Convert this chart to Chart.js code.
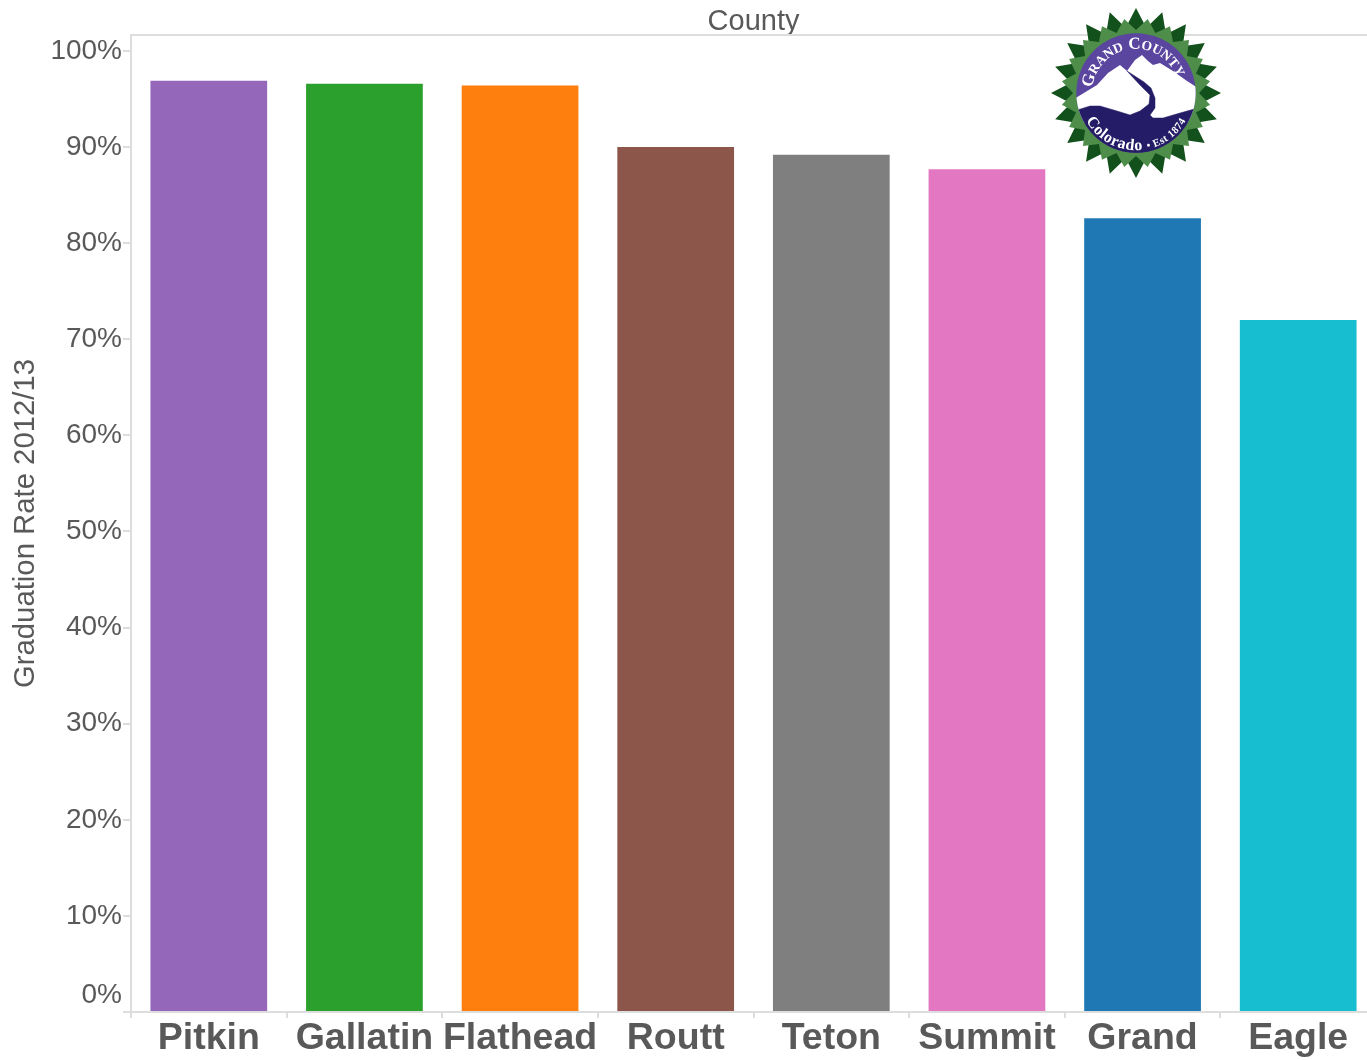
<!DOCTYPE html>
<html><head><meta charset="utf-8">
<script src="https://cdn.jsdelivr.net/npm/chart.js@4"></script>
<style>
html,body{margin:0;padding:0;background:#fff;overflow:hidden;width:1367px;height:1060px}
#wrap{position:relative;width:1367px;height:1060px;overflow:hidden}
canvas{position:absolute;left:0;top:0}
#seal{position:absolute;left:1046px;top:3px}
</style></head><body>
<div id="wrap"><canvas id="c" width="1376" height="1060"></canvas>
<svg id="seal" width="180" height="180" viewBox="-90 -90 180 180" xmlns="http://www.w3.org/2000/svg">
<defs>
<clipPath id="disc"><circle r="59.7"/></clipPath>
<path id="arcTopLong" d="M -38 22 A 44 44 0 1 1 38 22" transform="rotate(-7)"/>
<path id="arcBot" d="M -49 -29 A 57 57 0 1 0 49 -29"/>
</defs>
<g id="spikes"></g>
<g clip-path="url(#disc)">
<rect x="-60" y="-60" width="120" height="120" fill="#5a459f"/>
<path d="M -62 6 L -39 -8 L -28 -20 L -16 -28 L -9 -22 L -1 -33 L 6 -38 L 12 -32 L 17 -28 L 24 -30 L 37 -22 L 51 -12 L 62 -5 L 62 30 L -62 30 Z" fill="#ffffff"/>
<path d="M -62 18 L -46 13 L -36 13 L -19 18 L -6 22 L 4 18 L 13 11 L 14 2 L 4 -8 L -9 -22 L 8 -11 L 15 -5 L 19 5 L 19 15 L 14 22 L 17 25 L 27 25 L 44 20 L 62 15 L 62 62 L -62 62 Z" fill="#241c66" stroke="#241c66" stroke-width="0.5" stroke-linejoin="round"/>
</g>
<text font-family="'Liberation Serif',serif" font-weight="700" font-size="17" fill="#fff"><textPath href="#arcTopLong" startOffset="50%" text-anchor="middle">G<tspan font-size="13.5">RAND</tspan> C<tspan font-size="13.5">OUNTY</tspan></textPath></text>
<text font-family="'Liberation Serif',serif" font-weight="700" font-size="16" fill="#fff" letter-spacing="0.5"><textPath href="#arcBot" startOffset="50%" text-anchor="middle">Colorado <tspan font-size="10.5">• Est 1874</tspan></textPath></text>
</svg></div>
<script>
const categories = ['Pitkin','Gallatin','Flathead','Routt','Teton','Summit','Grand','Eagle'];
const graduationRate = [96.9,96.6,96.4,90.0,89.2,87.7,82.6,72.0];
const barColors = ['#9467bb','#2ca02c','#ff7f0e','#8c564b','#7f7f7f','#e377c2','#1f77b4','#17becf'];
const yTicks = [0,10,20,30,40,50,60,70,80,90,100];
const yTitle = 'Graduation Rate 2012/13';
const xTitle = 'County';

// seal ornament
(function(){
  const g=document.getElementById('spikes');const ns='http://www.w3.org/2000/svg';
  function star(n,ro,ri,off,fill){
    let p=[];for(let i=0;i<n*2;i++){const r=i%2?ri:ro;const a=(i*Math.PI/n)+off-Math.PI/2;p.push((r*Math.cos(a)).toFixed(2)+','+(r*Math.sin(a)).toFixed(2));}
    const e=document.createElementNS(ns,'polygon');e.setAttribute('points',p.join(' '));e.setAttribute('fill',fill);g.appendChild(e);
  }
  star(20,85,66,0,'#12501c');
  star(20,75,63,Math.PI/20,'#4f8d4b');
})();

const GREY='#595959', LINE='#dddddd';
new Chart(document.getElementById('c'),{
  type:'bar',
  data:{labels:categories,datasets:[{data:graduationRate,backgroundColor:barColors,barPercentage:0.75,categoryPercentage:1,borderWidth:0,xAxisID:'x',yAxisID:'y'}]},
  options:{
    responsive:false,animation:false,
    layout:{padding:0},
    plugins:{legend:{display:false},tooltip:{enabled:false}},
    scales:{
      x:{type:'category',position:'bottom',
        afterFit:s=>{s.height=48;},
        grid:{display:true,drawOnChartArea:false,drawTicks:true,tickLength:6,color:LINE,lineWidth:2,offset:true},
        border:{display:true,color:LINE,width:2},
        ticks:{color:GREY,autoSkip:false,maxRotation:0,padding:-2,font:{family:"'Liberation Sans',Arial,sans-serif",size:37.5,weight:'bold'}}
      },
      top:{type:'category',position:'top',labels:categories,
        afterFit:s=>{s.height=35;},
        grid:{display:false,drawTicks:false},
        border:{display:true,color:LINE,width:2},
        ticks:{display:false},
        title:{display:true,text:xTitle,color:GREY,padding:{top:5,bottom:0},font:{family:"'Liberation Sans',Arial,sans-serif",size:29}}
      },
      y:{type:'linear',position:'left',min:0,max:101.66,
        afterFit:s=>{s.width=131;},
        afterBuildTicks:s=>{s.ticks=yTicks.map(v=>({value:v}));},
        grid:{display:true,drawOnChartArea:false,drawTicks:true,tickLength:8,color:LINE,lineWidth:2},
        border:{display:true,color:LINE,width:2},
        ticks:{color:GREY,padding:1,callback:v=>v===0?[v+'%','']:v+'%',font:{family:"'Liberation Sans',Arial,sans-serif",size:28,lineHeight:1.2}},
        title:{display:true,text:yTitle,color:GREY,padding:{top:8,bottom:0},font:{family:"'Liberation Sans',Arial,sans-serif",size:29.3}}
      }
    }
  }
});
</script>
</body></html>
